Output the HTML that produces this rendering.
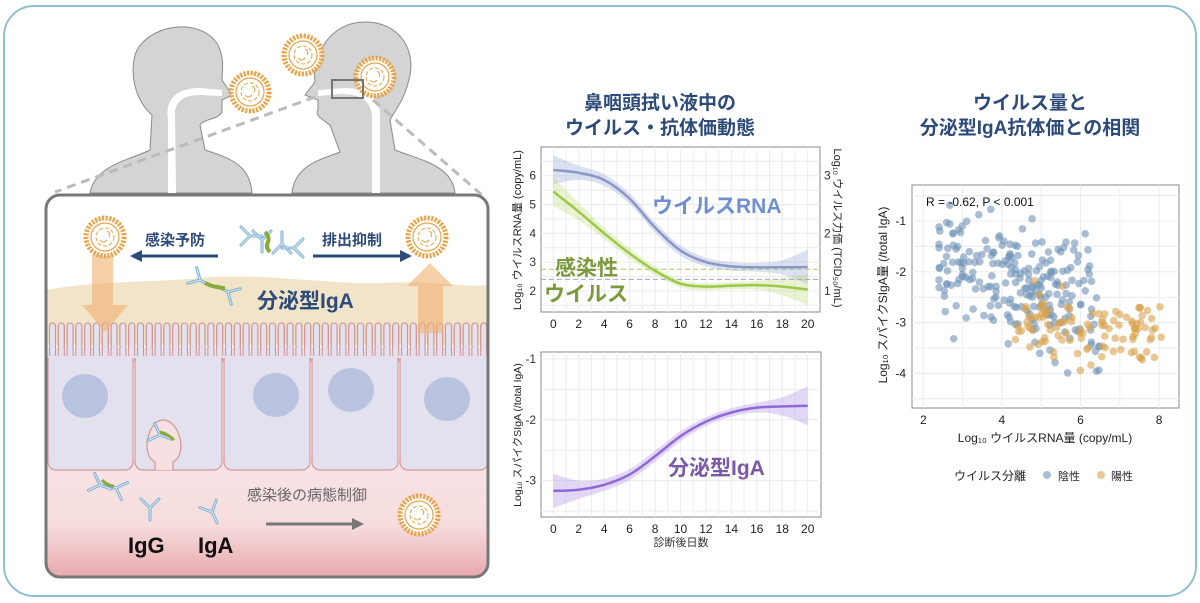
<!DOCTYPE html>
<html><head><meta charset="utf-8"><style>
html,body{margin:0;padding:0;background:#fff}
svg{display:block;font-family:"Liberation Sans","Noto Sans CJK JP",sans-serif}
</style></head><body>
<svg id="s" width="1200" height="603" viewBox="0 0 1200 603" xmlns="http://www.w3.org/2000/svg">
<defs>
<g id="vir">
<circle r="19" fill="#fff" stroke="#e8a448" stroke-width="5" stroke-dasharray="2.2 1.4"/>
<circle r="14" fill="#fff" stroke="#e8a448" stroke-width="1.2"/>
<circle r="9" fill="none" stroke="#e8a448" stroke-width="1" stroke-dasharray="4 2"/>
<path d="M-5 3 q3 4 7 0 M2 -6 q4 2 2 6" fill="none" stroke="#e8a448" stroke-width="1"/>
</g>
<g id="ab" fill="none" stroke="#7fb0d0" stroke-width="3" stroke-linecap="round">
<path d="M0 0 L0 12 M0 0 L-9 -9 M0 0 L9 -9"/>
<path d="M0 0 L0 12 M0 0 L-9 -9 M0 0 L9 -9" stroke="#d6ebf5" stroke-width="1"/>
</g>
<linearGradient id="pk" x1="0" y1="0" x2="0" y2="1">
<stop offset="0" stop-color="#f8e4e5"/><stop offset="0.55" stop-color="#f6dcdd"/><stop offset="1" stop-color="#e8a6aa"/>
</linearGradient>
<clipPath id="bx"><rect x="46" y="195" width="442" height="382" rx="14"/></clipPath>
</defs>
<rect x="4" y="6" width="1192" height="590" rx="30" fill="#fff" stroke="#8fc0d2" stroke-width="2"/>

<!-- heads -->
<path d="M90 193 C95 165 130 160 150 150 L152 115 C135 100 130 75 135 55 C145 25 200 15 218 45 C225 60 222 70 222 80 L232 95 L222 100 L222 112 C218 120 205 118 200 125 L205 150 C230 158 250 165 252 193 Z" fill="#d4d4d4" stroke="#8a8a8a"/>
<path d="M168 120 C165 100 175 88 200 88 L222 90 L222 96 L200 95 C185 95 178 100 175 110 L176 193 L168 193 Z" fill="#fff"/>
<path d="M292 193 C295 165 320 160 340 152 L330 125 C320 118 315 115 318 110 L318 100 L305 95 L315 82 C312 55 330 22 365 22 C400 22 415 50 410 75 C405 100 395 110 390 120 L395 150 C420 160 452 165 455 193 Z" fill="#d4d4d4" stroke="#8a8a8a"/>
<path d="M372 193 L372 115 C370 100 360 94 340 94 L318 96 L318 90 L345 88 C370 88 382 100 380 120 L380 193 Z" fill="#fff"/>
<line x1="315" y1="97" x2="55" y2="192" stroke="#bbb" stroke-width="3" stroke-dasharray="9 6"/>
<line x1="373" y1="100" x2="482" y2="195" stroke="#bbb" stroke-width="3" stroke-dasharray="9 6"/>
<use href="#vir" x="250" y="92"/><use href="#vir" x="303" y="55"/><use href="#vir" x="375" y="77"/>
<rect x="332" y="80" width="31" height="18" fill="none" stroke="#777" stroke-width="2"/>

<!-- box -->
<rect x="46" y="195" width="442" height="382" rx="14" fill="#fff"/>
<g clip-path="url(#bx)">
<rect x="46" y="460" width="442" height="120" fill="url(#pk)"/>
<path d="M46 290 C100 280 150 283 200 278 C260 272 330 285 380 283 C430 280 470 288 488 285 L488 345 L46 345 Z" fill="#f1e4c8"/>
<g id="cells"></g>
<ellipse cx="85" cy="396" rx="23" ry="22" fill="#b9c3e0"/>
<ellipse cx="276" cy="395" rx="23" ry="22" fill="#b9c3e0"/>
<ellipse cx="351" cy="390" rx="23" ry="22" fill="#b9c3e0"/>
<ellipse cx="447" cy="399" rx="23" ry="22" fill="#b9c3e0"/>
<path d="M155 470 L155 462 C140 455 148 420 163 420 C180 420 188 455 173 462 L173 470" fill="#f6e0e2" stroke="#d39696" stroke-width="1.2"/>
<rect x="92" y="255" width="21" height="50" fill="#f0b070" opacity=".6"/>
<path d="M82 305 L128 305 L105 332 Z" fill="#f0b070" opacity=".6"/>
<rect x="418" y="286" width="25" height="47" fill="#f0b070" opacity=".6"/>
<path d="M407 286 L453 286 L430 263 Z" fill="#f0b070" opacity=".6"/>
</g>
<rect x="46" y="195" width="442" height="382" rx="14" fill="none" stroke="#777" stroke-width="3"/>
<use href="#vir" x="105" y="237"/><use href="#vir" x="427" y="237"/><use href="#vir" x="419" y="515"/>
<text x="145" y="245" font-size="15" font-weight="bold" fill="#2c4a7a">感染予防</text>
<text x="322" y="245" font-size="15" font-weight="bold" fill="#2c4a7a">排出抑制</text>
<path d="M218 256 L140 256" stroke="#2c4a7a" stroke-width="3"/><path d="M130 256 L142 250 L142 262Z" fill="#2c4a7a"/>
<path d="M313 256 L402 256" stroke="#2c4a7a" stroke-width="3"/><path d="M412 256 L400 250 L400 262Z" fill="#2c4a7a"/>
<text x="257" y="308" font-size="21" font-weight="bold" fill="#2c4a7a">分泌型IgA</text>
<use href="#ab" x="262" y="240"/><use href="#ab" x="282" y="244" transform="rotate(180 282 244)"/>
<use href="#ab" x="250" y="236" transform="rotate(-90 250 236)"/><use href="#ab" x="294" y="248" transform="rotate(90 294 248)"/>
<path d="M265 232 q5 5 3 10 q-3 5 2 10" stroke="#8aaa3a" stroke-width="4" fill="none"/>
<use href="#ab" x="200" y="280" transform="rotate(-60 200 280)"/><use href="#ab" x="228" y="292" transform="rotate(120 228 292)"/>
<path d="M205 283 q10 5 20 5" stroke="#8aaa3a" stroke-width="4" fill="none"/>
<use href="#ab" x="160" y="435" transform="rotate(-70 160 435)"/><path d="M160 432 q8 2 14 8" stroke="#8aaa3a" stroke-width="3" fill="none"/>
<use href="#ab" x="100" y="485" transform="rotate(-70 100 485)"/><use href="#ab" x="116" y="488" transform="rotate(110 116 488)"/><path d="M102 480 q6 6 12 6" stroke="#8aaa3a" stroke-width="3" fill="none"/>
<use href="#ab" x="150" y="508"/><use href="#ab" x="212" y="512" transform="rotate(-25 212 512)"/>
<text x="247" y="500" font-size="15" fill="#666">感染後の病態制御</text>
<path d="M266 524 L353 524" stroke="#777" stroke-width="3"/><path d="M364 524 L352 518 L352 530Z" fill="#777"/>
<text x="128" y="553" font-size="22" font-weight="bold" fill="#111">IgG</text>
<text x="198" y="553" font-size="22" font-weight="bold" fill="#111">IgA</text>

<!-- titles -->
<g font-size="19" font-weight="bold" fill="#2c4a7a" text-anchor="middle">
<text x="660" y="109">鼻咽頭拭い液中の</text><text x="660" y="134">ウイルス・抗体価動態</text>
<text x="1030" y="109">ウイルス量と</text><text x="1030" y="134">分泌型IgA抗体価との相関</text>
</g>

<g id="p1"></g><g id="p2"></g><g id="p3"></g>
</svg>
<script>
var NS="http://www.w3.org/2000/svg";
function el(p,t,a,txt){var e=document.createElementNS(NS,t);for(var k in a)e.setAttribute(k,a[k]);if(txt!=null)e.textContent=txt;document.getElementById(p).appendChild(e);return e;}
// cells
var cx=[[48,133],[135,222],[224,310],[312,398],[400,488]];
var d="";for(var x=48;x<488;x+=8.8){d+="M"+(x+1.5)+" 362 L"+(x+1.5)+" 326 a3 3 0 0 1 6 0 L"+(x+7.5)+" 362 ";}
el("cells","path",{d:d,fill:"#e4e1ef",stroke:"#d39696","stroke-width":1.1});
cx.forEach(function(c){el("cells","rect",{x:c[0],y:352,width:c[1]-c[0],height:118,rx:8,fill:"#e4e1ef",stroke:"#d39696","stroke-width":1.2});});
el("cells","rect",{x:46,y:348,width:442,height:10,fill:"#e4e1ef"});
var d2="";for(var x=48;x<488;x+=8.8){d2+="M"+(x+1.5)+" 356 L"+(x+1.5)+" 326 a3 3 0 0 1 6 0 L"+(x+7.5)+" 356 ";}
el("cells","path",{d:d2,fill:"none",stroke:"#d39696","stroke-width":1.1});
function sm(pts){var s="M"+pts[0][0]+" "+pts[0][1];for(var i=1;i<pts.length;i++){var p0=pts[i-2]||pts[i-1],p1=pts[i-1],p2=pts[i],p3=pts[i+1]||p2;s+=" C"+(p1[0]+(p2[0]-p0[0])/6)+" "+(p1[1]+(p2[1]-p0[1])/6)+" "+(p2[0]-(p3[0]-p1[0])/6)+" "+(p2[1]-(p3[1]-p1[1])/6)+" "+p2[0]+" "+p2[1];}return s;}
function panel(g,x0,y0,x1,y1,xs,ys){el(g,"rect",{x:x0,y:y0,width:x1-x0,height:y1-y0,fill:"#fff",stroke:"#888"});
xs.forEach(function(v){el(g,"line",{x1:v,y1:y0,x2:v,y2:y1,stroke:"#ececec"});});ys.forEach(function(v){el(g,"line",{x1:x0,y1:v,x2:x1,y2:v,stroke:"#ececec"});});}
function band(g,X,Y,lo,hi,col){var up=[],dn=[];for(var i=0;i<X.length;i++){up.push([X[i],Y(hi[i])]);}for(i=X.length-1;i>=0;i--)dn.push([X[i],Y(lo[i])]);
var sd2=sm(dn);el(g,"path",{d:sm(up)+" L"+dn[0][0]+" "+dn[0][1]+sd2.slice(sd2.indexOf("C")-1)+" Z",fill:col,opacity:.3});}
// plot1
var X=[];for(var i=0;i<=10;i++)X.push(553.3+i*2*12.72);
var Y1=function(v){return 175.7+(6-v)*28.8;};
var gx=[],gy=[];for(i=0;i<=20;i++)gx.push(553.3+i*12.72);for(var v=1.5;v<=6.5;v+=0.5)gy.push(Y1(v));
panel("p1",541,147,820,312,gx,gy);
var b=[6.2,6.1,5.85,5.2,4.2,3.4,3.0,2.85,2.82,2.82,2.83],g=[5.45,4.75,4.0,3.3,2.7,2.25,2.15,2.18,2.2,2.15,2.05];
var bw=[.5,.25,.2,.18,.18,.18,.15,.15,.15,.25,.6],gw=[.5,.3,.2,.18,.15,.13,.12,.12,.15,.3,.55];
band("p1",X,Y1,b.map(function(v,i){return v-bw[i];}),b.map(function(v,i){return v+bw[i];}),"#8c9bd0");
band("p1",X,Y1,g.map(function(v,i){return v-gw[i];}),g.map(function(v,i){return v+gw[i];}),"#b5d86a");
el("p1","line",{x1:541,x2:820,y1:Y1(2.75),y2:Y1(2.75),stroke:"#a8cc55","stroke-dasharray":"5 3"});
el("p1","line",{x1:541,x2:820,y1:Y1(2.4),y2:Y1(2.4),stroke:"#9aa8d8","stroke-dasharray":"5 3"});
el("p1","path",{d:sm(X.map(function(x,i){return[x,Y1(b[i])];})),fill:"none",stroke:"#8a96c8","stroke-width":2.5});
el("p1","path",{d:sm(X.map(function(x,i){return[x,Y1(g[i])];})),fill:"none",stroke:"#9cc848","stroke-width":2.5});
[2,3,4,5,6].forEach(function(v){el("p1","text",{x:536,y:Y1(v)+4,"font-size":12,"text-anchor":"end",fill:"#333"},v);});
[1,2,3].forEach(function(v){el("p1","text",{x:824,y:175.7+(3-v)*57.6+4,"font-size":12,fill:"#333"},v);});
for(i=0;i<=20;i+=2){el("p1","text",{x:553.3+i*12.72,y:328,"font-size":12,"text-anchor":"middle",fill:"#222"},i);el("p2","text",{x:553.3+i*12.72,y:533,"font-size":12,"text-anchor":"middle",fill:"#222"},i);}
el("p1","text",{transform:"translate(521 230) rotate(-90)","font-size":11,"text-anchor":"middle",fill:"#222"},"Log₁₀ ウイルスRNA量 (copy/mL)");
el("p1","text",{transform:"translate(834 228) rotate(90)","font-size":11,"text-anchor":"middle",fill:"#222"},"Log₁₀ ウイルス力価 (TCID₅₀/mL)");
el("p1","text",{x:652,y:213,"font-size":21,"font-weight":"bold",fill:"#6f8fd2"},"ウイルスRNA");
el("p1","text",{x:555,y:275,"font-size":21,"font-weight":"bold",fill:"#7c9a3c"},"感染性");
el("p1","text",{x:544,y:301,"font-size":21,"font-weight":"bold",fill:"#7c9a3c"},"ウイルス");
// plot2
var Y2=function(v){return 359+(-1-v)*60.8;};gy=[];for(v=-3.5;v<=-1;v+=0.5)gy.push(Y2(v));
panel("p2",541,352,821,517,gx,gy);
var p=[-3.17,-3.15,-3.07,-2.9,-2.6,-2.27,-2.03,-1.88,-1.8,-1.78,-1.77],pw=[.28,.15,.1,.09,.09,.08,.07,.07,.08,.15,.32];
band("p2",X,Y2,p.map(function(v,i){return v-pw[i];}),p.map(function(v,i){return v+pw[i];}),"#a07ee0");
el("p2","path",{d:sm(X.map(function(x,i){return[x,Y2(p[i])];})),fill:"none",stroke:"#9068d8","stroke-width":2.5});
[-1,-2,-3].forEach(function(v){el("p2","text",{x:536,y:Y2(v)+4,"font-size":12,"text-anchor":"end",fill:"#333"},v);});
el("p2","text",{x:681,y:546,"font-size":11,"text-anchor":"middle",fill:"#333"},"診断後日数");
el("p2","text",{transform:"translate(521 435) rotate(-90)","font-size":10.5,"text-anchor":"middle",fill:"#222"},"Log₁₀ スパイクSIgA (/total IgA)");
el("p2","text",{x:668,y:475,"font-size":21,"font-weight":"bold",fill:"#7a5aa8"},"分泌型IgA");
// plot3
var XP=function(v){return 923.3+(v-2)*39.3;},YP=function(v){return 221+(-1-v)*50.8;};
gx=[];for(v=2;v<=8;v+=1)gx.push(XP(v));gy=[];for(v=-4.5;v<=-0.5;v+=0.5)gy.push(YP(v));
panel("p3",912,185,1179,408,gx,gy);
var sd=7;function r(){sd=(sd*16807)%2147483647;return (sd-1)/2147483646;}function n(){return (r()+r()+r()+r()-2)*1.7;}
for(i=0;i<230;i++){var xv=2.4+Math.pow(r(),1.2)*4.1;var yv=-1.6-0.3*(xv-2.4)+n()*0.55;if(yv<-4)yv=-4+r()*.1;if(yv>-0.6)yv=-0.6-r()*0.3;
el("p3","circle",{cx:XP(xv),cy:YP(yv),r:3.8,fill:"#6f93b8",opacity:.6});}
for(i=0;i<110;i++){var xv=4.3+r()*3.8;var yv=-3.15+n()*0.35;el("p3","circle",{cx:XP(xv),cy:YP(yv),r:3.8,fill:"#d8a24c",opacity:.6});}
el("p3","text",{x:926,y:206,"font-size":12,fill:"#111"},"R = -0.62, P < 0.001");
[-1,-2,-3,-4].forEach(function(v){el("p3","text",{x:906,y:YP(v)+4,"font-size":12,"text-anchor":"end",fill:"#222"},v);});
[2,4,6,8].forEach(function(v){el("p3","text",{x:XP(v),y:424,"font-size":12,"text-anchor":"middle",fill:"#222"},v);});
el("p3","text",{x:1045,y:442,"font-size":12,"text-anchor":"middle",fill:"#222"},"Log₁₀ ウイルスRNA量 (copy/mL)");
el("p3","text",{transform:"translate(887 295) rotate(-90)","font-size":12,"text-anchor":"middle",fill:"#222"},"Log₁₀ スパイクSIgA量 (/total IgA)");
el("p3","text",{x:954,y:480,"font-size":12,fill:"#222"},"ウイルス分離");
el("p3","circle",{cx:1047,cy:475,r:4,fill:"#6f93b8",opacity:.6});el("p3","text",{x:1058,y:480,"font-size":11,fill:"#222"},"陰性");
el("p3","circle",{cx:1101,cy:475,r:4,fill:"#d8a24c",opacity:.6});el("p3","text",{x:1111,y:480,"font-size":11,"fill":"#222"},"陽性");
</script>
</body></html>
